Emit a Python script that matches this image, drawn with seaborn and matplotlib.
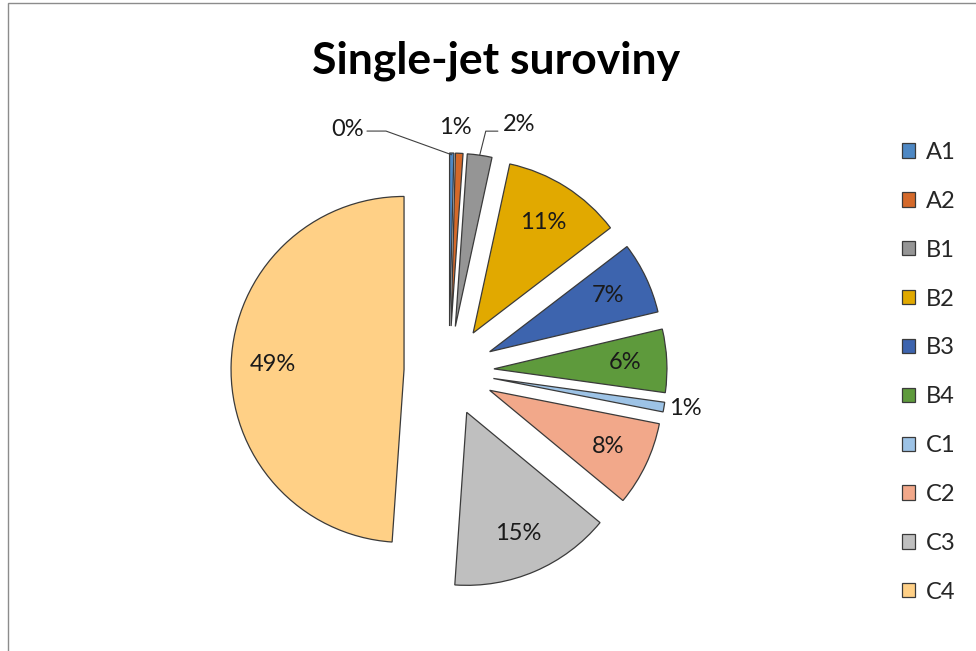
import numpy as np
import matplotlib
matplotlib.use("Agg")
import matplotlib.pyplot as plt
import seaborn as sns
from matplotlib.patches import Rectangle
from matplotlib.lines import Line2D

# ---- data ----
categories = ["A1", "A2", "B1", "B2", "B3", "B4", "C1", "C2", "C3", "C4"]
values = [0.4, 0.7, 2.3, 11.2, 6.7, 5.9, 0.9, 7.9, 15.1, 48.9]
colors = ["#4E88C4", "#D4692A", "#959595", "#E1A900", "#3D64AE",
          "#5E9A3C", "#9DC3E6", "#F2A88A", "#BFBFBF", "#FFD086"]
title = "Single-jet suroviny"

sns.set_theme(style="white")
plt.rcParams["font.family"] = ["Lato", "DejaVu Sans"]

W, H = 976, 651
fig = plt.figure(figsize=(W / 100, H / 100), dpi=100)
fig.patch.set_facecolor("white")

# axes: pie centre at px (449, 371), radius 173 px
R = 173.0
cx, cy = 449.0, 371.0
half = 1.6
ax = fig.add_axes([(cx - half * R) / W, (H - cy - half * R) / H,
                   2 * half * R / W, 2 * half * R / H])

explode = [0.26] * len(values)
wedges, texts, autotexts = ax.pie(
    values, labels=None, colors=colors, explode=explode, startangle=90,
    counterclock=False, autopct="%.0f%%", pctdistance=0.76,
    wedgeprops=dict(edgecolor="#3a3a3a", linewidth=0.9),
    textprops=dict(fontsize=17, color="#1a1a1a"))
ax.set_xlim(-half, half)
ax.set_ylim(-half, half)
ax.set_aspect("equal")
ax.axis("off")

def outer_mid(w):
    th = np.deg2rad((w.theta1 + w.theta2) / 2)
    return (w.center[0] + w.r * np.cos(th), w.center[1] + w.r * np.sin(th))

# outside labels for small slices (offsets in data units from slice tip)
lead = "#404040"
# A1 -> 0%
tx, ty = outer_mid(wedges[0])
autotexts[0].set_position((tx - 0.60, ty + 0.135))
ax.add_line(Line2D([tx - 0.49, tx - 0.38, tx], [ty + 0.127, ty + 0.127, ty - 0.01],
                   color=lead, lw=0.8, clip_on=False))
# A2 -> 1%
tx, ty = outer_mid(wedges[1])
autotexts[1].set_position((tx - 0.02, ty + 0.15))
# B1 -> 2%
tx, ty = outer_mid(wedges[2])
autotexts[2].set_position((tx + 0.225, ty + 0.18))
ax.add_line(Line2D([tx, tx + 0.035, tx + 0.105], [ty, ty + 0.139, ty + 0.139],
                   color=lead, lw=0.8, clip_on=False))
# C1 -> 1%
tx, ty = outer_mid(wedges[6])
autotexts[6].set_position((tx + 0.03, ty - 0.01))
autotexts[6].set_ha("left")
for t in autotexts:
    t.set_clip_on(False)

# title
fig.text(0.508, 0.906, title, ha="center", va="center", fontsize=32,
         fontweight="bold", color="#000000")

# legend
leg = fig.legend(wedges, categories, loc="upper left",
                 bbox_to_anchor=(0.924, 0.782), frameon=False,
                 fontsize=17, handlelength=0.55, handleheight=0.55,
                 handletextpad=0.45, labelspacing=1.18, borderpad=0,
                 borderaxespad=0)
for h in leg.legend_handles:
    h.set_linewidth(0.9)
    h.set_edgecolor("#3a3a3a")

# chart-area border (top and left visible)
fig.patches.append(Rectangle((8 / W, -0.2), 1.5, 1.2 - 3 / H,
                             transform=fig.transFigure, fill=False,
                             edgecolor="#8c8c8c", linewidth=1.0))

fig.savefig("out.png", dpi=100, facecolor="white")
